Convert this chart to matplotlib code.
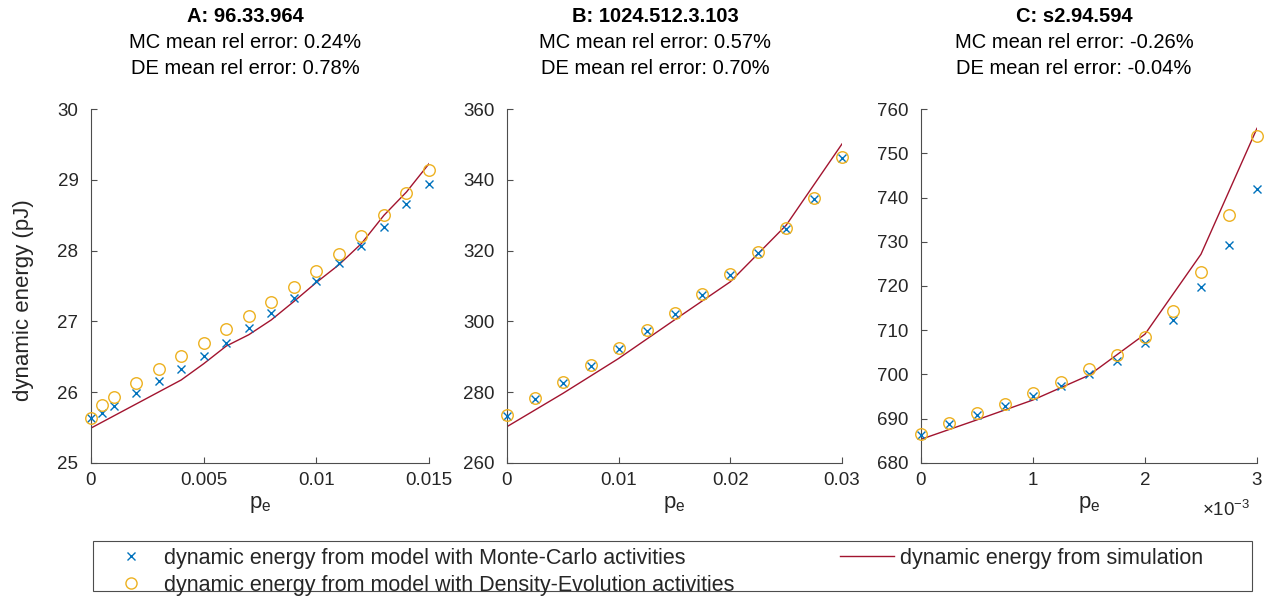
import matplotlib
matplotlib.use("Agg")
import matplotlib.pyplot as plt
from matplotlib.patches import Rectangle
from matplotlib.lines import Line2D

plt.rcParams['font.family'] = ['Liberation Sans', 'DejaVu Sans']
plt.rcParams['mathtext.fontset'] = 'custom'
plt.rcParams['mathtext.rm'] = 'Liberation Sans'
plt.rcParams['mathtext.it'] = 'Liberation Sans'

# ---------------- data ----------------
titles = ["A: 96.33.964", "B: 1024.512.3.103", "C: s2.94.594"]
mc_err = ["0.24%", "0.57%", "-0.26%"]
de_err = ["0.78%", "0.70%", "-0.04%"]

# Panel A
a_x = [0, 0.0005, 0.001, 0.002, 0.003, 0.004, 0.005, 0.006, 0.007, 0.008,
       0.009, 0.010, 0.011, 0.012, 0.013, 0.014, 0.015]
a_mc = [25.63, 25.71, 25.80, 25.98, 26.15, 26.33, 26.51, 26.70, 26.90, 27.12,
        27.33, 27.57, 27.83, 28.07, 28.33, 28.66, 28.95]
a_de = [25.63, 25.82, 25.93, 26.13, 26.33, 26.51, 26.70, 26.89, 27.08, 27.28,
        27.49, 27.71, 27.95, 28.21, 28.50, 28.81, 29.14]
a_sim_x = [0, 0.001, 0.002, 0.003, 0.004, 0.005, 0.006, 0.007, 0.008,
           0.009, 0.010, 0.011, 0.012, 0.013, 0.014, 0.015]
a_sim = [25.49, 25.66, 25.83, 26.00, 26.17, 26.40, 26.65, 26.81, 27.02,
         27.28, 27.55, 27.80, 28.10, 28.50, 28.83, 29.23]

# Panel B
b_x = [0, 0.0025, 0.005, 0.0075, 0.010, 0.0125, 0.015, 0.0175, 0.020,
       0.0225, 0.025, 0.0275, 0.030]
b_mc = [273.3, 278.0, 282.6, 287.4, 292.2, 297.2, 302.2, 307.4, 313.1,
        319.2, 326.2, 334.7, 346.3]
b_de = [273.5, 278.2, 282.9, 287.7, 292.5, 297.5, 302.5, 307.7, 313.4,
        319.5, 326.5, 335.0, 346.6]
b_sim_x = [0, 0.005, 0.010, 0.015, 0.020, 0.025, 0.030]
b_sim = [270.2, 279.6, 289.5, 300.4, 311.2, 327.2, 350.2]

# Panel C
c_x = [0, 0.00025, 0.0005, 0.00075, 0.001, 0.00125, 0.0015, 0.00175, 0.002,
       0.00225, 0.0025, 0.00275, 0.003]
c_mc = [686.3, 688.7, 690.8, 692.9, 695.1, 697.4, 700.0, 703.1, 707.2,
        712.3, 719.7, 729.2, 741.9]
c_de = [686.4, 688.9, 691.2, 693.4, 695.7, 698.3, 701.2, 704.4, 708.5,
        714.3, 723.2, 736.1, 754.0]
c_sim_x = [0, 0.0005, 0.001, 0.0015, 0.002, 0.0025, 0.003]
c_sim = [685.3, 689.7, 694.2, 699.8, 709.1, 727.2, 755.7]

xlims = [(0, 0.015), (0, 0.03), (0, 0.003)]
ylims = [(25, 30), (260, 360), (680, 760)]
xticks = [[0, 0.005, 0.01, 0.015], [0, 0.01, 0.02, 0.03], [0, 0.001, 0.002, 0.003]]
xticklabels = [["0", "0.005", "0.01", "0.015"], ["0", "0.01", "0.02", "0.03"],
               ["0", "1", "2", "3"]]
yticks = [[25, 26, 27, 28, 29, 30], [260, 280, 300, 320, 340, 360],
          [680, 690, 700, 710, 720, 730, 740, 750, 760]]

legend_labels = ["dynamic energy from model with Monte-Carlo activities",
                 "dynamic energy from model with Density-Evolution activities",
                 "dynamic energy from simulation"]

# ---------------- style ----------------
MC_C = "#0072BD"
DE_C = "#EDB120"
SIM_C = "#A2142F"
TXT = "#262626"
AX_C = "#4D4D4D"

W, H = 1265, 601
fig = plt.figure(figsize=(W / 100, H / 100), dpi=100)

boxes = [(91, 429), (507, 842), (921, 1257)]
title_centers = [245, 655, 1074]
top_px, bot_px = 109.3, 462.7

panels = [(a_x, a_mc, a_de, a_sim_x, a_sim),
          (b_x, b_mc, b_de, b_sim_x, b_sim),
          (c_x, c_mc, c_de, c_sim_x, c_sim)]

for i, ((l, r), (x, mc, de, sx, sy)) in enumerate(zip(boxes, panels)):
    ax = fig.add_axes([l / W, 1 - bot_px / H, (r - l) / W, (bot_px - top_px) / H])
    ax.plot(sx, sy, color=SIM_C, lw=1.0, zorder=2)
    ax.plot(x, mc, ls='none', marker='x', ms=5.5, mew=1.0, color=MC_C,
            clip_on=False, zorder=3)
    ax.plot(x, de, ls='none', marker='o', ms=8.3, mew=1.0, mfc='none',
            mec=DE_C, clip_on=False, zorder=4)
    ax.set_xlim(*xlims[i])
    ax.set_ylim(*ylims[i])
    ax.set_xticks(xticks[i])
    ax.set_xticklabels(xticklabels[i])
    ax.set_yticks(yticks[i])
    ax.set_yticklabels([str(v) for v in yticks[i]])
    for s in ['top', 'right']:
        ax.spines[s].set_visible(False)
    for s in ['left', 'bottom']:
        ax.spines[s].set_color(AX_C)
        ax.spines[s].set_linewidth(0.8)
    ax.tick_params(direction='in', length=4, width=0.8, color=AX_C,
                   labelcolor=TXT, labelsize=13.5)
    ax.tick_params(axis='x', pad=7)
    ax.tick_params(axis='y', pad=9)
    ax.set_xlabel("p$_{\\rm e}$", fontsize=16, color=TXT, labelpad=3)
    if i == 0:
        ax.set_ylabel("dynamic energy (pJ)", fontsize=16, color=TXT)
        ax.yaxis.set_label_coords((34 - l) / (r - l),
                                  1 - (300 - top_px) / (bot_px - top_px))
    # titles (in figure pixels)
    xc = title_centers[i] / W
    fig.text(xc, 1 - 16 / H, titles[i], ha='center', va='center',
             fontsize=14.5, fontweight='bold', color='black')
    fig.text(xc, 1 - 43 / H, "MC mean rel error: " + mc_err[i], ha='center',
             va='center', fontsize=14.5, color='black')
    fig.text(xc, 1 - 68 / H, "DE mean rel error: " + de_err[i], ha='center',
             va='center', fontsize=14.5, color='black')
    if i == 2:
        fig.text(1226 / W, 1 - 510 / H, "$\\times$10$^{-3}$", ha='center',
                 va='center', fontsize=13.5, color=TXT)

# legend box
fig.patches.append(Rectangle((93 / W, 1 - 591 / H), (1252 - 93) / W, (591 - 541) / H,
                             transform=fig.transFigure, fill=True, fc='white',
                             ec=AX_C, lw=0.8))
handles = [Line2D([], [], ls='none', marker='x', ms=5.5, mew=1.0, color=MC_C),
           Line2D([], [], ls='none', marker='o', ms=8, mew=1.0, mfc='none', mec=DE_C),
           Line2D([], [], color=SIM_C, lw=1.0)]
fig.legend(handles, legend_labels, loc='upper left',
           bbox_to_anchor=(93 / W, 1 - 537 / H), ncol=2, frameon=False,
           fontsize=15.5, handlelength=2.5, handletextpad=0.3,
           columnspacing=4.9, borderpad=0, labelspacing=0.28,
           labelcolor=TXT)

fig.savefig("out.png", dpi=100)
